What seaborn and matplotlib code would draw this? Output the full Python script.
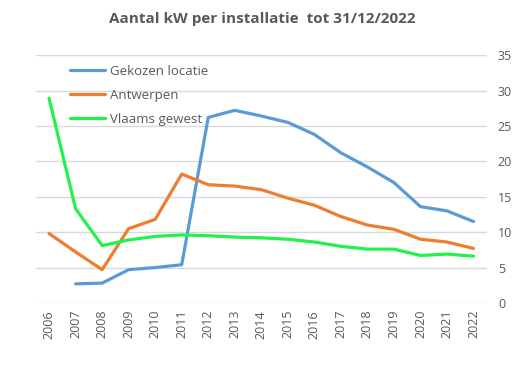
import matplotlib
matplotlib.use("Agg")
import matplotlib.pyplot as plt
import seaborn as sns
import numpy as np
import pandas as pd

years = list(range(2006, 2023))
gekozen = [np.nan, 2.7, 2.8, 4.7, 5.0, 5.4, 26.2, 27.2, 26.4, 25.5, 23.8,
           21.2, 19.2, 17.0, 13.6, 13.0, 11.5]
antwerpen = [9.8, 7.2, 4.7, 10.5, 11.8, 18.2, 16.7, 16.5, 16.0, 14.8, 13.8,
             12.2, 11.0, 10.4, 9.0, 8.6, 7.7]
vlaams = [28.9, 13.3, 8.1, 8.9, 9.4, 9.6, 9.5, 9.3, 9.2, 9.0, 8.6,
          8.0, 7.6, 7.6, 6.7, 6.9, 6.6]
series = ["Gekozen locatie", "Antwerpen", "Vlaams gewest"]
colors = ["#5B9BD5", "#ED7D31", "#22F24C"]

df = pd.concat([
    pd.DataFrame({"jaar": years, "kW": vals, "reeks": name})
    for name, vals in zip(series, [gekozen, antwerpen, vlaams])
], ignore_index=True)

sns.set_theme(style="white")
plt.rcParams["font.family"] = ["Open Sans", "DejaVu Sans"]
text_col = "#595959"

fig, ax = plt.subplots(figsize=(5.19, 3.65), dpi=100)
fig.subplots_adjust(left=0.069, right=0.938, top=0.849, bottom=0.17)

sns.lineplot(data=df, x="jaar", y="kW", hue="reeks", hue_order=series,
             palette=colors, linewidth=2.3, ax=ax)

ax.set_xlim(years[0] - 0.5, years[-1] + 0.5)
ax.set_ylim(0, 35)
ax.set_yticks(range(0, 36, 5))
ax.set_xticks(years)
ax.set_xticklabels([str(y) for y in years], rotation=90)
ax.yaxis.tick_right()
ax.tick_params(axis="both", length=0, labelsize=9, labelcolor=text_col)
ax.tick_params(axis="y", pad=8)
ax.tick_params(axis="x", pad=5)
ax.grid(axis="y", color="#D9D9D9", linewidth=1)
ax.set_axisbelow(True)
for s in ax.spines.values():
    s.set_visible(False)
ax.set_xlabel("")
ax.set_ylabel("")

fig.suptitle("Aantal kW per installatie  tot 31/12/2022", x=0.505, y=0.968,
             fontsize=11, fontweight="bold", color=text_col)

leg = ax.legend(loc="upper left", bbox_to_anchor=(0.05, 1.01), frameon=False,
                fontsize=9.5, handlelength=2.6, handletextpad=0.4, labelspacing=0.85)
for t in leg.get_texts():
    t.set_color(text_col)

plt.savefig("out.png", dpi=100)
plt.close()
